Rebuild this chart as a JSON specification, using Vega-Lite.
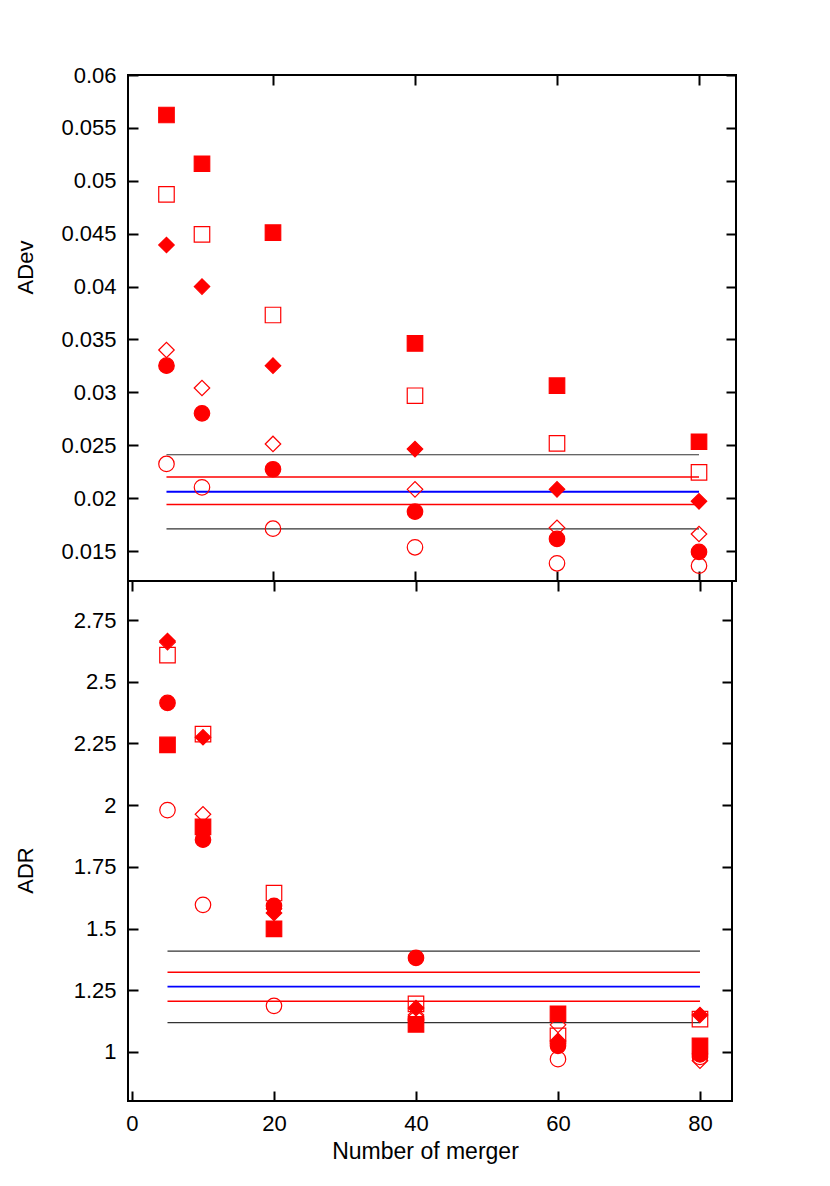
{
  "$schema": "https://vega.github.io/schema/vega-lite/v6.json",
  "background": "white",
  "padding": {"left": 13, "top": 63, "right": 5, "bottom": 5},
  "config": {
    "view": {"stroke": "black", "strokeWidth": 2},
    "axis": {
      "grid": false, "domain": false, "tickSize": -10, "tickWidth": 2, "tickColor": "black",
      "labelFont": "Liberation Sans", "labelFontSize": 22, "labelColor": "black", "labelPadding": 22,
      "labelFlush": false, "labelOverlap": false,
      "titleFont": "Liberation Sans", "titleFontSize": 22, "titleFontWeight": "normal", "titleColor": "black"
    }
  },
  "datasets": {
    "topPts": [
      {"x": 5, "v": 0.04872, "s": "s2"}, {"x": 10, "v": 0.04494, "s": "s2"}, {"x": 20, "v": 0.03731, "s": "s2"}, {"x": 40, "v": 0.02968, "s": "s2"}, {"x": 60, "v": 0.02518, "s": "s2"}, {"x": 80, "v": 0.02244, "s": "s2"},
      {"x": 5, "v": 0.0340, "s": "s4"}, {"x": 10, "v": 0.03041, "s": "s4"}, {"x": 20, "v": 0.02512, "s": "s4"}, {"x": 40, "v": 0.02083, "s": "s4"}, {"x": 60, "v": 0.0172, "s": "s4"}, {"x": 80, "v": 0.01661, "s": "s4"},
      {"x": 5, "v": 0.02323, "s": "s6"}, {"x": 10, "v": 0.02102, "s": "s6"}, {"x": 20, "v": 0.01711, "s": "s6"}, {"x": 40, "v": 0.01535, "s": "s6"}, {"x": 60, "v": 0.01384, "s": "s6"}, {"x": 80, "v": 0.01361, "s": "s6"},
      {"x": 5, "v": 0.05622, "s": "s1"}, {"x": 10, "v": 0.05161, "s": "s1"}, {"x": 20, "v": 0.0451, "s": "s1"}, {"x": 40, "v": 0.03462, "s": "s1"}, {"x": 60, "v": 0.03063, "s": "s1"}, {"x": 80, "v": 0.02533, "s": "s1"},
      {"x": 5, "v": 0.04393, "s": "s3"}, {"x": 10, "v": 0.04, "s": "s3"}, {"x": 20, "v": 0.03252, "s": "s3"}, {"x": 40, "v": 0.02464, "s": "s3"}, {"x": 60, "v": 0.02083, "s": "s3"}, {"x": 80, "v": 0.0197, "s": "s3"},
      {"x": 5, "v": 0.03252, "s": "s5"}, {"x": 10, "v": 0.02802, "s": "s5"}, {"x": 20, "v": 0.02273, "s": "s5"}, {"x": 40, "v": 0.01872, "s": "s5"}, {"x": 60, "v": 0.01614, "s": "s5"}, {"x": 80, "v": 0.01491, "s": "s5"}
    ],
    "topLines": [
      {"x1": 5, "x2": 80, "v": 0.0241, "kind": "outer"},
      {"x1": 5, "x2": 80, "v": 0.0220, "kind": "inner"},
      {"x1": 5, "x2": 80, "v": 0.0206, "kind": "mean"},
      {"x1": 5, "x2": 80, "v": 0.0194, "kind": "inner"},
      {"x1": 5, "x2": 80, "v": 0.0171, "kind": "outer"}
    ],
    "botPts": [
      {"x": 5, "v": 2.608, "s": "s2"}, {"x": 10, "v": 2.288, "s": "s2"}, {"x": 20, "v": 1.644, "s": "s2"}, {"x": 40, "v": 1.195, "s": "s2"}, {"x": 60, "v": 1.065, "s": "s2"}, {"x": 80, "v": 1.133, "s": "s2"},
      {"x": 5, "v": 2.66, "s": "s4"}, {"x": 10, "v": 1.963, "s": "s4"}, {"x": 20, "v": 1.58, "s": "s4"}, {"x": 40, "v": 1.15, "s": "s4"}, {"x": 60, "v": 1.11, "s": "s4"}, {"x": 80, "v": 0.965, "s": "s4"},
      {"x": 5, "v": 1.98, "s": "s6"}, {"x": 10, "v": 1.596, "s": "s6"}, {"x": 20, "v": 1.187, "s": "s6"}, {"x": 40, "v": 1.13, "s": "s6"}, {"x": 60, "v": 0.971, "s": "s6"}, {"x": 80, "v": 0.98, "s": "s6"},
      {"x": 5, "v": 2.244, "s": "s1"}, {"x": 10, "v": 1.912, "s": "s1"}, {"x": 20, "v": 1.499, "s": "s1"}, {"x": 40, "v": 1.112, "s": "s1"}, {"x": 60, "v": 1.155, "s": "s1"}, {"x": 80, "v": 1.025, "s": "s1"},
      {"x": 5, "v": 2.665, "s": "s3"}, {"x": 10, "v": 2.275, "s": "s3"}, {"x": 20, "v": 1.563, "s": "s3"}, {"x": 40, "v": 1.178, "s": "s3"}, {"x": 60, "v": 1.045, "s": "s3"}, {"x": 80, "v": 1.15, "s": "s3"},
      {"x": 5, "v": 2.414, "s": "s5"}, {"x": 10, "v": 1.86, "s": "s5"}, {"x": 20, "v": 1.592, "s": "s5"}, {"x": 40, "v": 1.381, "s": "s5"}, {"x": 60, "v": 1.025, "s": "s5"}, {"x": 80, "v": 0.99, "s": "s5"}
    ],
    "botLines": [
      {"x1": 5, "x2": 80, "v": 1.409, "kind": "outer"},
      {"x1": 5, "x2": 80, "v": 1.323, "kind": "inner"},
      {"x1": 5, "x2": 80, "v": 1.265, "kind": "mean"},
      {"x1": 5, "x2": 80, "v": 1.206, "kind": "inner"},
      {"x1": 5, "x2": 80, "v": 1.119, "kind": "outer"}
    ]
  },
  "spacing": 0,
  "bounds": "flush",
  "vconcat": [
    {
      "width": 608, "height": 506,
      "resolve": {"axis": {"x": "independent", "y": "independent"}},
      "layer": [
        {
          "data": {"name": "topLines"},
          "mark": {"type": "rule"},
          "encoding": {
            "x": {"field": "x1", "type": "quantitative", "scale": {"domain": [-0.42, 85.21], "nice": false, "zero": false},
                  "axis": {"orient": "bottom", "values": [20, 40, 60, 80], "labels": false, "title": null}},
            "x2": {"field": "x2"},
            "y": {"field": "v", "type": "quantitative", "scale": {"domain": [0.012165, 0.06], "nice": false, "zero": false},
                  "axis": {"orient": "left", "values": [0.015, 0.02, 0.025, 0.03, 0.035, 0.04, 0.045, 0.05, 0.055, 0.06], "format": ".4~g",
                           "title": "ADev", "titleX": -96, "titleY": 192, "titleAngle": 270, "titleAlign": "center", "titleBaseline": "alphabetic"}},
            "color": {"field": "kind", "type": "nominal", "scale": {"domain": ["outer", "inner", "mean"], "range": ["#333333", "#ff0000", "#0000ff"]}, "legend": null},
            "strokeWidth": {"field": "kind", "type": "nominal", "scale": {"domain": ["outer", "inner", "mean"], "range": [1.2, 1.8, 3]}, "legend": null}
          }
        },
        {
          "data": {"name": "topPts"},
          "mark": {"type": "point", "filled": true, "fill": "#ff0000", "stroke": "#ff0000", "strokeWidth": 1.2, "size": 240, "opacity": 1},
          "encoding": {
            "x": {"field": "x", "type": "quantitative", "scale": {"domain": [-0.42, 85.21], "nice": false, "zero": false},
                  "axis": {"orient": "top", "values": [20, 40, 60, 80], "labels": false, "title": null}},
            "y": {"field": "v", "type": "quantitative", "scale": {"domain": [0.012165, 0.06], "nice": false, "zero": false},
                  "axis": {"orient": "right", "values": [0.015, 0.02, 0.025, 0.03, 0.035, 0.04, 0.045, 0.05, 0.055, 0.06], "labels": false, "title": null}},
            "shape": {"field": "s", "type": "nominal", "scale": {"domain": ["s1", "s2", "s3", "s4", "s5", "s6"], "range": ["square", "square", "diamond", "diamond", "circle", "circle"]}, "legend": null},
            "fillOpacity": {"condition": {"test": "indexof(['s1','s3','s5'], datum.s) >= 0", "value": 1}, "value": 0}
          }
        }
      ]
    },
    {
      "width": 604, "height": 520,
      "resolve": {"axis": {"x": "independent", "y": "independent"}},
      "layer": [
        {
          "data": {"name": "botLines"},
          "mark": {"type": "rule"},
          "encoding": {
            "x": {"field": "x1", "type": "quantitative", "scale": {"domain": [-0.563, 84.51], "nice": false, "zero": false},
                  "axis": {"orient": "bottom", "values": [0, 20, 40, 60, 80], "title": "Number of merger", "titleFontSize": 23, "titleBaseline": "alphabetic", "titleX": 297, "titleY": 57}},
            "x2": {"field": "x2"},
            "y": {"field": "v", "type": "quantitative", "scale": {"domain": [0.8015, 2.908], "nice": false, "zero": false},
                  "axis": {"orient": "left", "values": [1, 1.25, 1.5, 1.75, 2, 2.25, 2.5, 2.75], "format": ".4~g",
                           "title": "ADR", "titleX": -96, "titleY": 289, "titleAngle": 270, "titleAlign": "center", "titleBaseline": "alphabetic"}},
            "color": {"field": "kind", "type": "nominal", "scale": {"domain": ["outer", "inner", "mean"], "range": ["#333333", "#ff0000", "#0000ff"]}, "legend": null},
            "strokeWidth": {"field": "kind", "type": "nominal", "scale": {"domain": ["outer", "inner", "mean"], "range": [1.2, 1.8, 3]}, "legend": null}
          }
        },
        {
          "data": {"name": "botPts"},
          "mark": {"type": "point", "filled": true, "fill": "#ff0000", "stroke": "#ff0000", "strokeWidth": 1.2, "size": 240, "opacity": 1},
          "encoding": {
            "x": {"field": "x", "type": "quantitative", "scale": {"domain": [-0.563, 84.51], "nice": false, "zero": false},
                  "axis": {"orient": "top", "values": [0, 20, 40, 60, 80], "labels": false, "title": null}},
            "y": {"field": "v", "type": "quantitative", "scale": {"domain": [0.8015, 2.908], "nice": false, "zero": false},
                  "axis": {"orient": "right", "values": [1, 1.25, 1.5, 1.75, 2, 2.25, 2.5, 2.75], "labels": false, "title": null}},
            "shape": {"field": "s", "type": "nominal", "scale": {"domain": ["s1", "s2", "s3", "s4", "s5", "s6"], "range": ["square", "square", "diamond", "diamond", "circle", "circle"]}, "legend": null},
            "fillOpacity": {"condition": {"test": "indexof(['s1','s3','s5'], datum.s) >= 0", "value": 1}, "value": 0}
          }
        }
      ]
    }
  ]
}
